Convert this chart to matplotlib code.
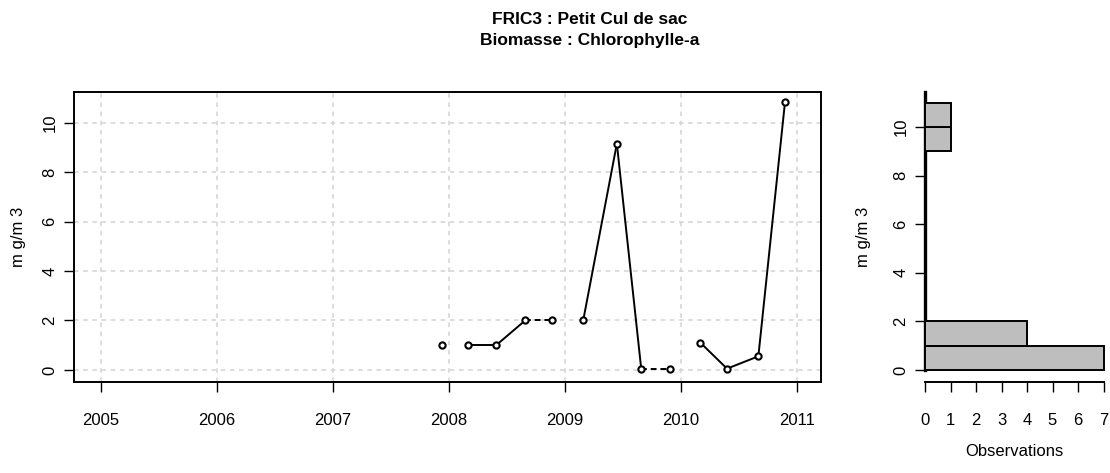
import matplotlib
matplotlib.use("Agg")
import matplotlib.pyplot as plt
import numpy as np
from matplotlib import font_manager

# pick a narrow sans face if one is available
names = {f.name for f in font_manager.fontManager.ttflist}
narrow = "Liberation Sans Narrow" if "Liberation Sans Narrow" in names else "Liberation Sans"
plt.rcParams['font.family'] = [narrow, 'DejaVu Sans']

# sampling dates (decimal years) and chlorophyll-a values (mg/m3)
dates = [2007.94, 2008.17, 2008.41, 2008.66, 2008.89, 2009.16, 2009.45,
         2009.66, 2009.91, 2010.17, 2010.40, 2010.67, 2010.90]
chla = [1.0, 1.0, 1.0, 2.0, 2.0, 2.0, 9.15, 0.05, 0.05, 1.1, 0.05, 0.55, 10.85]
# style of the link between each point and the next one
links = ['none', '-', '-', '--', 'none', '-', '-', '--', 'none', '-', '-', '-']

years = [2005, 2006, 2007, 2008, 2009, 2010, 2011]
yticks = [0, 2, 4, 6, 8, 10]
bin_edges = np.arange(0, 12)

fig = plt.figure(figsize=(11.1, 4.73), dpi=100)
W, H = 1110, 473

# ---- time series panel ----
ax = fig.add_axes([74 / W, 1 - 382 / H, 747 / W, 290 / H])
for i, ls in enumerate(links):
    if ls == 'none':
        continue
    ax.plot(dates[i:i + 2], chla[i:i + 2], color='black', lw=1.4,
            linestyle=ls, dashes=(3, 2) if ls == '--' else (None, None), zorder=3)
ax.plot(dates, chla, linestyle='none', marker='o', ms=4.5, mfc='white',
        mec='black', mew=1.5, zorder=4)

ax.set_xlim(2004.77, 2011.21)
ax.set_ylim(-0.49, 11.24)
ax.set_xticks(years)
ax.set_xticklabels([str(y) for y in years])
ax.set_yticks(yticks)
ax.set_yticklabels([str(v) for v in yticks], rotation=90, va='center')
for x in years:
    ax.axvline(x, color='#D3D3D3', lw=1.1, linestyle=(0, (3, 3)), zorder=1)
for y in yticks:
    ax.axhline(y, color='#D3D3D3', lw=1.1, linestyle=(0, (3, 3)), zorder=1)
ax.tick_params(axis='x', length=7, width=1, labelsize=12, pad=15)
ax.tick_params(axis='y', length=7, width=1, labelsize=12, pad=5)
for s in ax.spines.values():
    s.set_linewidth(1.4)
ax.set_ylabel('m g/m 3', fontsize=12, labelpad=12)

# ---- distribution panel ----
counts = [sum(1 for v in chla if lo < v <= hi) for lo, hi in zip(bin_edges[:-1], bin_edges[1:])]
axh = fig.add_axes([925 / W, 1 - 382 / H, 178.5 / W, 290 / H])
axh.barh(bin_edges[:-1], counts, height=1, align='edge', color='#BEBEBE',
         edgecolor='black', lw=1.4, clip_on=False, zorder=3)
axh.set_xlim(0, 7)
axh.set_ylim(-0.49, 11.44)
axh.set_xticks(range(8))
axh.set_yticks(yticks)
axh.set_yticklabels([str(v) for v in yticks], rotation=90, va='center')
axh.spines['top'].set_visible(False)
axh.spines['right'].set_visible(False)
axh.spines['left'].set_bounds(0, 11.44)
axh.spines['bottom'].set_bounds(0, 7)
axh.spines['left'].set_linewidth(2.4)
axh.spines['bottom'].set_linewidth(1.4)
axh.tick_params(axis='x', length=7, width=1, labelsize=12, pad=15)
axh.tick_params(axis='y', length=7, width=1, labelsize=12, pad=5)
axh.set_ylabel('m g/m 3', fontsize=12, labelpad=16)
axh.set_xlabel('Observations', fontsize=12, labelpad=12)

fig.text(590 / W, 1 - 19 / H, 'FRIC3 : Petit Cul de sac', ha='center', va='center',
         fontsize=12.5, fontweight='bold')
fig.text(590 / W, 1 - 41 / H, 'Biomasse : Chlorophylle-a', ha='center', va='center',
         fontsize=12.5, fontweight='bold')

fig.savefig('out.png', dpi=100)
